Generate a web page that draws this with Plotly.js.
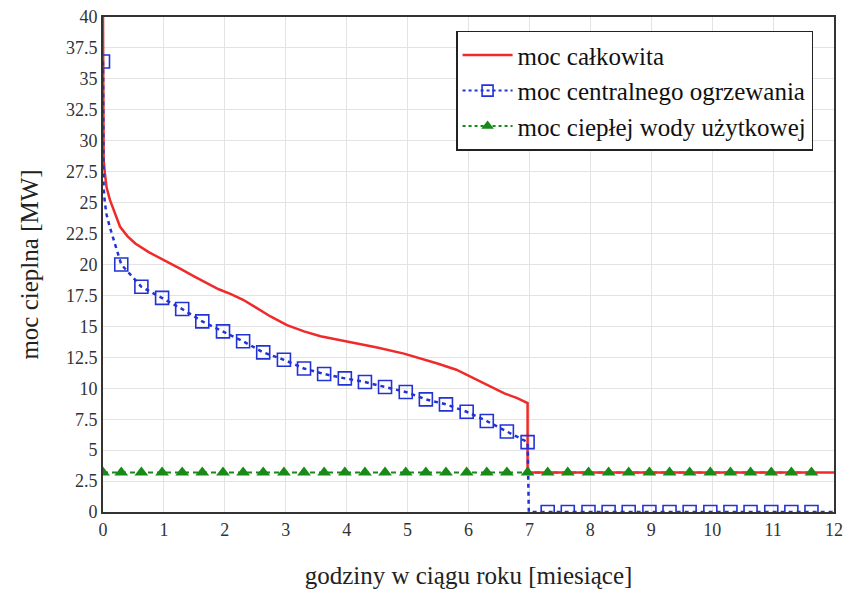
<!DOCTYPE html>
<html>
<head>
<meta charset="utf-8">
<script src="https://cdn.plot.ly/plotly-3.0.1.min.js"></script>
<style>html,body{margin:0;padding:0;background:#fff;font-family:'Liberation Serif';}#chart{width:847px;height:589px;font-family:'Liberation Serif';}</style>
</head>
<body>
<div id="chart"></div>
<script>
// moc całkowita (total heat demand)
const totalX = [0, 0, 0.01, 0.03, 0.06, 0.115, 0.2, 0.28, 0.4, 0.53, 0.75, 0.97, 1.25, 1.51, 1.9, 2.1, 2.3, 2.5, 2.75, 3.02, 3.3, 3.57, 4.0, 4.5, 4.94, 5.2, 5.49, 5.8, 6.04, 6.3, 6.58, 6.8, 6.97, 6.97, 12];
const totalY = [40, 30.5, 28.5, 27.4, 26.2, 25.2, 24.0, 23.05, 22.3, 21.7, 21.0, 20.4, 19.7, 19.0, 18.0, 17.6, 17.15, 16.55, 15.8, 15.1, 14.6, 14.2, 13.8, 13.3, 12.8, 12.45, 12.0, 11.5, 10.9, 10.3, 9.6, 9.2, 8.8, 3.2, 3.2];

// moc centralnego ogrzewania - dashed line
const coLineX = [0, 0, 0.01, 0.03, 0.06, 0.11, 0.18, 0.25, 0.3, 0.63, 0.97, 1.3, 1.63, 1.97, 2.3, 2.63, 2.97, 3.3, 3.63, 3.97, 4.3, 4.63, 4.97, 5.3, 5.63, 5.97, 6.3, 6.63, 6.97, 6.99, 7.3, 12];
const coLineY = [36.4, 27.5, 26.2, 25.0, 24.0, 23.05, 21.9, 20.9, 20.0, 18.2, 17.3, 16.4, 15.4, 14.6, 13.8, 12.9, 12.3, 11.6, 11.15, 10.8, 10.5, 10.1, 9.7, 9.1, 8.7, 8.1, 7.35, 6.5, 5.65, 0, 0, 0];

// moc centralnego ogrzewania - marker points
const coMarkX = [0, 0.3, 0.63, 0.97, 1.3, 1.63, 1.97, 2.3, 2.63, 2.97, 3.3, 3.63, 3.97, 4.3, 4.63, 4.97, 5.3, 5.63, 5.97, 6.3, 6.63, 6.97, 7.3, 7.63, 7.97, 8.3, 8.63, 8.97, 9.3, 9.63, 9.97, 10.3, 10.63, 10.97, 11.3, 11.63];
const coMarkY = [36.4, 20.0, 18.2, 17.3, 16.4, 15.4, 14.6, 13.8, 12.9, 12.3, 11.6, 11.15, 10.8, 10.5, 10.1, 9.7, 9.1, 8.7, 8.1, 7.35, 6.5, 5.65, 0, 0, 0, 0, 0, 0, 0, 0, 0, 0, 0, 0, 0, 0];

// moc ciepłej wody użytkowej
const cwuX = [0, 0.3, 0.63, 0.97, 1.3, 1.63, 1.97, 2.3, 2.63, 2.97, 3.3, 3.63, 3.97, 4.3, 4.63, 4.97, 5.3, 5.63, 5.97, 6.3, 6.63, 6.97, 7.3, 7.63, 7.97, 8.3, 8.63, 8.97, 9.3, 9.63, 9.97, 10.3, 10.63, 10.97, 11.3, 11.63];
const cwuY = [3.2, 3.2, 3.2, 3.2, 3.2, 3.2, 3.2, 3.2, 3.2, 3.2, 3.2, 3.2, 3.2, 3.2, 3.2, 3.2, 3.2, 3.2, 3.2, 3.2, 3.2, 3.2, 3.2, 3.2, 3.2, 3.2, 3.2, 3.2, 3.2, 3.2, 3.2, 3.2, 3.2, 3.2, 3.2, 3.2];

const names = ['moc całkowita', 'moc centralnego ogrzewania', 'moc ciepłej wody użytkowej'];
const xTicks = [0,1,2,3,4,5,6,7,8,9,10,11,12];
const yTicks = [0,2.5,5,7.5,10,12.5,15,17.5,20,22.5,25,27.5,30,32.5,35,37.5,40];

const RED = '#f02a2a', BLUE = '#2233d6', GREEN = '#178a17';
const serif = 'Liberation Serif';

const traces = [
  {x: cwuX, y: cwuY, mode: 'lines', line: {color: GREEN, width: 2, dash: '5px,4px'}, showlegend: false, hoverinfo: 'skip'},
  {x: totalX, y: totalY, mode: 'lines', name: names[0], line: {color: RED, width: 2.5}},
  {x: coLineX, y: coLineY, mode: 'lines', line: {color: BLUE, width: 2.5, dash: '4px,4px'}, showlegend: false, hoverinfo: 'skip'},
  {x: coMarkX, y: coMarkY, mode: 'markers', marker: {symbol: 'square-open', size: 13, color: BLUE, line: {width: 1.6}}, showlegend: false},
  {x: cwuX, y: cwuY, mode: 'markers', marker: {symbol: 'triangle-up', size: 12, color: GREEN}, showlegend: false},
  {x: [null], y: [null], mode: 'lines+markers', name: names[1],
   line: {color: BLUE, width: 2, dash: '3px,3px'}, marker: {symbol: 'square-open', size: 11, color: BLUE, line: {width: 1.6}}},
  {x: [null], y: [null], mode: 'lines+markers', name: names[2],
   line: {color: GREEN, width: 2, dash: '3px,3px'}, marker: {symbol: 'triangle-up', size: 11, color: GREEN}}
];

const layout = {
  width: 847, height: 589,
  margin: {l: 103, r: 13, t: 17, b: 77},
  paper_bgcolor: '#fff', plot_bgcolor: '#fff',
  font: {family: serif, color: '#333', size: 18},
  showlegend: true,
  legend: {x: 0.483, y: 0.972, xanchor: 'left', yanchor: 'top', bgcolor: '#fff', bordercolor: '#222', borderwidth: 1.5,
           font: {family: serif, size: 25, color: '#111'}, traceorder: 'normal', itemwidth: 50},
  xaxis: {range: [0, 12], tickvals: xTicks, ticktext: xTicks.map(String), showgrid: true, gridcolor: '#e3e3e3', gridwidth: 1,
          zeroline: false, showline: true, linecolor: '#333', linewidth: 2, mirror: true, ticks: '', ticklen: 0,
          tickfont: {family: serif, size: 18, color: '#333'},
          title: {text: 'godziny w ciągu roku [miesiące]', font: {family: serif, size: 25, color: '#222'}, standoff: 38}},
  yaxis: {range: [0, 40], tickvals: yTicks, ticktext: yTicks.map(String), showgrid: true, gridcolor: '#e3e3e3', gridwidth: 1,
          zeroline: false, showline: true, linecolor: '#333', linewidth: 2, mirror: true, ticks: '', ticklen: 0,
          tickfont: {family: serif, size: 18, color: '#333'},
          title: {text: 'moc cieplna [MW]', font: {family: serif, size: 25, color: '#222'}, standoff: 20}}
};

const cfg = {displayModeBar: false, staticPlot: true};
function draw() { Plotly.newPlot('chart', traces, layout, cfg); }
draw();
if (document.fonts && document.fonts.load) {
  Promise.all([document.fonts.load('18px "Liberation Serif"', '0123456789.'),
               document.fonts.load('25px "Liberation Serif"', 'moc całkowita ogrzewania')]).then(draw, function(){});
}
setTimeout(draw, 150);
setTimeout(draw, 600);
</script>
</body>
</html>
